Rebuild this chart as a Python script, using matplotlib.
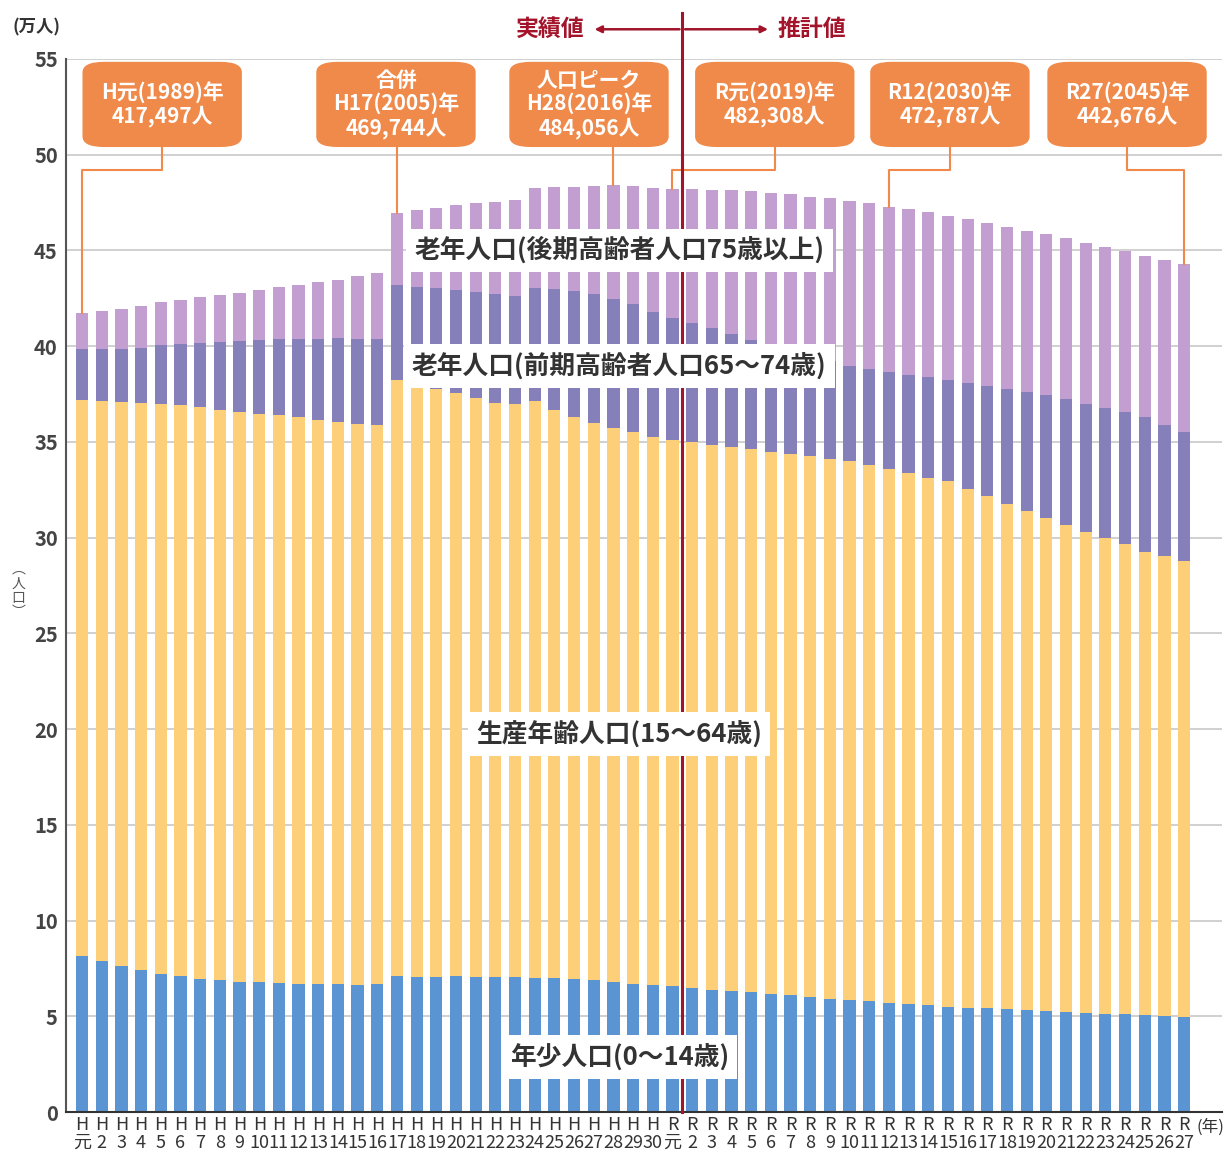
import numpy as np
import matplotlib
matplotlib.use("Agg")
import matplotlib.pyplot as plt
from matplotlib.patches import FancyBboxPatch

plt.rcParams['font.family'] = ['Noto Sans CJK JP', 'DejaVu Sans']

# 年の並び (H元〜H30, R元〜R27)
years = ["H元"] + [f"H{i}" for i in range(2, 31)] + ["R元"] + [f"R{i}" for i in range(2, 28)]

# 各層の上端 (万人) - 積み上げ境界
top_young = [8.14, 7.87, 7.61, 7.40, 7.23, 7.09, 6.97, 6.88, 6.81, 6.81,
             6.74, 6.71, 6.70, 6.67, 6.65, 6.70, 7.09, 7.08, 7.08, 7.09,
             7.07, 7.05, 7.04, 7.02, 6.98, 6.93, 6.88, 6.79, 6.71, 6.62,
             6.56, 6.46, 6.39, 6.32, 6.25, 6.16, 6.09, 6.01, 5.92, 5.83,
             5.78, 5.71, 5.64, 5.57, 5.50, 5.45, 5.41, 5.36, 5.33, 5.29,
             5.24, 5.19, 5.13, 5.10, 5.06, 5.03, 4.99]
top_working = [37.21, 37.16, 37.07, 37.02, 36.98, 36.91, 36.81, 36.69, 36.56, 36.47,
               36.42, 36.29, 36.16, 36.04, 35.94, 35.90, 38.22, 38.00, 37.75, 37.53,
               37.27, 37.04, 36.98, 37.12, 36.69, 36.29, 35.99, 35.73, 35.52, 35.24,
               35.10, 34.99, 34.85, 34.71, 34.61, 34.48, 34.36, 34.24, 34.12, 33.98,
               33.77, 33.58, 33.37, 33.14, 32.97, 32.55, 32.18, 31.78, 31.40, 31.01,
               30.66, 30.31, 29.96, 29.65, 29.27, 29.04, 28.77]
top_early = [39.83, 39.83, 39.85, 39.92, 40.06, 40.13, 40.18, 40.21, 40.27, 40.34,
             40.37, 40.37, 40.39, 40.42, 40.39, 40.40, 43.18, 43.10, 43.03, 42.92,
             42.85, 42.71, 42.62, 43.06, 42.97, 42.88, 42.74, 42.48, 42.19, 41.80,
             41.49, 41.23, 40.93, 40.61, 40.32, 40.02, 39.72, 39.45, 39.20, 38.96,
             38.83, 38.66, 38.52, 38.38, 38.24, 38.08, 37.91, 37.78, 37.63, 37.47,
             37.24, 37.00, 36.77, 36.55, 36.32, 35.90, 35.50]
total = [41.75, 41.85, 41.95, 42.10, 42.30, 42.40, 42.55, 42.65, 42.80, 42.95,
         43.07, 43.18, 43.33, 43.48, 43.64, 43.80, 46.97, 47.11, 47.24, 47.38,
         47.46, 47.51, 47.64, 48.24, 48.30, 48.33, 48.38, 48.41, 48.36, 48.28,
         48.23, 48.21, 48.16, 48.13, 48.11, 48.02, 47.93, 47.81, 47.72, 47.60,
         47.46, 47.28, 47.15, 46.99, 46.82, 46.62, 46.43, 46.22, 46.03, 45.84,
         45.63, 45.40, 45.17, 44.96, 44.72, 44.49, 44.27]

# 吹き出し (対象年, 文言)
callouts = [("H元", "H元(1989)年\n417,497人"),
            ("H17", "合併\nH17(2005)年\n469,744人"),
            ("H28", "人口ピーク\nH28(2016)年\n484,056人"),
            ("R元", "R元(2019)年\n482,308人"),
            ("R12", "R12(2030)年\n472,787人"),
            ("R27", "R27(2045)年\n442,676人")]

c_young = "#5b94d2"
c_work = "#fdcf79"
c_early = "#8580b9"
c_late = "#c29fd0"
c_orange = "#f08a4b"
c_red = "#a3132a"

x = np.arange(len(years))
young = np.array(top_young)
work = np.array(top_working) - young
early = np.array(top_early) - np.array(top_working)
late = np.array(total) - np.array(top_early)

fig = plt.figure(figsize=(12.25, 11.56), dpi=100)
ax = fig.add_axes([0.054, 0.038, 0.9436, 0.911])

w = 0.62
ax.bar(x, young, w, color=c_young, zorder=2)
ax.bar(x, work, w, bottom=young, color=c_work, zorder=2)
ax.bar(x, early, w, bottom=top_working, color=c_early, zorder=2)
ax.bar(x, late, w, bottom=top_early, color=c_late, zorder=2)

ax.set_xlim(-0.81, 57.93)
ax.set_ylim(0, 55)
ax.set_yticks(range(0, 56, 5))
ax.yaxis.grid(True, color="#c8c8c8", lw=1.2, zorder=0)
ax.tick_params(axis="y", labelsize=14.5, colors="#444444", length=0, pad=6)
for t in ax.get_yticklabels():
    t.set_fontweight("bold")
ax.set_xticks(x)
ax.set_xticklabels([y[0] + "\n" + y[1:] for y in years], fontsize=13,
                   color="#333333", linespacing=0.95)
ax.tick_params(axis="x", length=0, pad=3)
for s in ["top", "right"]:
    ax.spines[s].set_visible(False)
ax.spines["left"].set_color("#555555")
ax.spines["left"].set_linewidth(1.5)
ax.spines["bottom"].set_color("#333333")
ax.spines["bottom"].set_linewidth(1.5)

fig.text(0.010, 0.972, "(万人)", fontsize=12.5, color="#333333", fontweight="bold")
fig.text(0.015, 0.489, "︵\n人\n口\n︶", fontsize=10, color="#555555",
         ha="center", va="center", linespacing=1.0)
fig.text(0.9765, 0.0245, "(年)", fontsize=12, color="#333333", va="center", ha="left")

# 区分ラベル
lbl = dict(ha="center", va="center", fontsize=18.5, color="#333333", fontweight="bold",
           zorder=7, bbox=dict(boxstyle="square,pad=0.32", fc="white", ec="none"))
ax.text(27.3, 45.0, "老年人口(後期高齢者人口75歳以上)", **lbl)
ax.text(27.3, 38.97, "老年人口(前期高齢者人口65〜74歳)", **lbl)
ax.text(27.3, 19.75, "生産年齢人口(15〜64歳)", **lbl)
ax.text(27.3, 2.88, "年少人口(0〜14歳)", **lbl)

# 実績値 / 推計値 区切り
div = 30.5
ax.plot([div, div], [0, 57.4], color=c_red, lw=2.2, zorder=6, clip_on=False)
ax.annotate("", xy=(25.9, 56.55), xytext=(div, 56.55),
            arrowprops=dict(arrowstyle="-|>", color=c_red, lw=1.8, mutation_scale=10),
            annotation_clip=False)
ax.annotate("", xy=(35.0, 56.55), xytext=(div, 56.55),
            arrowprops=dict(arrowstyle="-|>", color=c_red, lw=1.8, mutation_scale=10),
            annotation_clip=False)
ax.text(25.55, 56.55, "実績値", ha="right", va="center", fontsize=16.5, color=c_red,
        fontweight="bold", clip_on=False)
ax.text(35.35, 56.55, "推計値", ha="left", va="center", fontsize=16.5, color=c_red,
        fontweight="bold", clip_on=False)

# 吹き出し
box_cx = [4.07, 15.95, 25.76, 35.2, 44.1, 53.1]
bw, bh, by = 8.1, 4.45, 50.4
elbow = 49.2
for (yr, txt), cx in zip(callouts, box_cx):
    i = years.index(yr)
    ax.add_patch(FancyBboxPatch((cx - bw / 2, by), bw, bh,
                                boxstyle="round,pad=0,rounding_size=1.1",
                                mutation_aspect=0.5, fc=c_orange, ec="none",
                                zorder=8, clip_on=False))
    ax.text(cx, by + bh / 2, txt, ha="center", va="center", fontsize=15,
            color="white", fontweight="bold", linespacing=1.1, zorder=9)
    if abs(cx - i) < 1.5:
        xs, ys = [i, i], [by, total[i]]
    else:
        xs, ys = [cx, cx, i, i], [by, elbow, elbow, total[i]]
    ax.plot(xs, ys, color=c_orange, lw=1.5, zorder=4)

fig.savefig("out.png", dpi=100)
